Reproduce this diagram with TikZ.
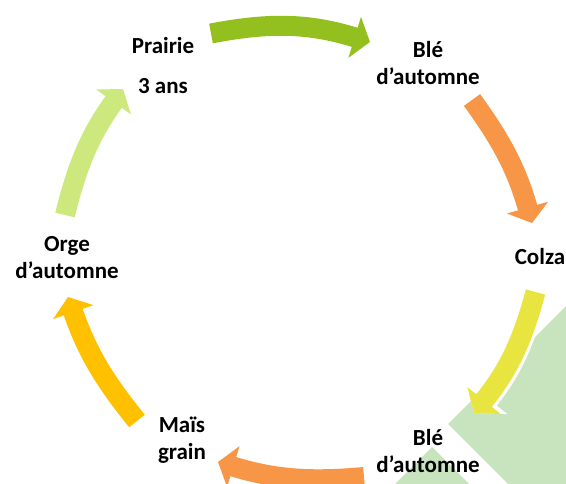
\documentclass[tikz,border=0pt]{standalone}
\usepackage{fontspec}
\setmainfont{Carlito}
\usetikzlibrary{arrows.meta}
\definecolor{prairiegreen}{RGB}{148,192,31}
\definecolor{wheatorange}{RGB}{247,150,70}
\definecolor{colzayellow}{RGB}{233,229,64}
\definecolor{maisgold}{RGB}{255,192,0}
\definecolor{orgegreen}{RGB}{205,233,125}
\definecolor{leafgreen}{RGB}{200,228,190}
\tikzstyle{culture}=[align=center, inner sep=0, font=\fontsize{23}{27}\selectfont\bfseries]
\tikzstyle{cyclearrow}=[line width=20pt, -{Triangle[width=42pt,length=16pt]},
                        % white rim, only seen over the leaves
                        preaction={draw=white, line width=26pt, -{Triangle[width=52pt,length=20pt]}}]

\begin{document}
\begin{tikzpicture}[x=1pt, y=-1pt]
        \useasboundingbox (0,0) rectangle (566,484);
        % leaves in the corner
        \fill[leafgreen] (448,424) -- (566,306) -- (566,484) -- (508,484) -- cycle;
        \fill[leafgreen] (432,447) -- (469,484) -- (395,484) -- cycle;
        % crops
        \node[culture] (P)  at (163,66)  {Prairie\\[13pt]3 ans};
        \node[culture] (B1) at (428,63)  {Blé\\d’automne};
        \node[culture] (C)  at (540,257) {Colza};
        \node[culture] (B2) at (428,451) {Blé\\d’automne};
        \node[culture] (M)  at (182,440) {Maïs\\grain};
        \node[culture] (O)  at (67,258)  {Orge\\d’automne};
        % arrow ends
        \coordinate (P-out)  at (211,33.5);
        \coordinate (B1-in)  at (370,42);
        \coordinate (B1-out) at (472,100);
        \coordinate (C-in)   at (532,223);
        \coordinate (C-out)  at (535.5,292);
        \coordinate (B2-in)  at (474,413);
        \coordinate (B2-out) at (364,477);
        \coordinate (M-in)   at (218,462);
        \coordinate (M-out)  at (137,421);
        \coordinate (O-in)   at (68,297);
        \coordinate (O-out)  at (65,215);
        \coordinate (P-in)   at (123,89);
        \draw[cyclearrow, prairiegreen] (P-out)  to[bend left=14] (B1-in);
        \draw[cyclearrow, wheatorange]  (B1-out) to[bend left=10] (C-in);
        \draw[cyclearrow, colzayellow]  (C-out)  to[bend left=12] (B2-in);
        \draw[cyclearrow, wheatorange]  (B2-out) to[bend left=11] (M-in);
        \draw[cyclearrow, maisgold]     (M-out)  to[bend left=10] (O-in);
        \draw[cyclearrow, orgegreen]    (O-out)  to[bend left=11] (P-in);
\end{tikzpicture}
\end{document}
